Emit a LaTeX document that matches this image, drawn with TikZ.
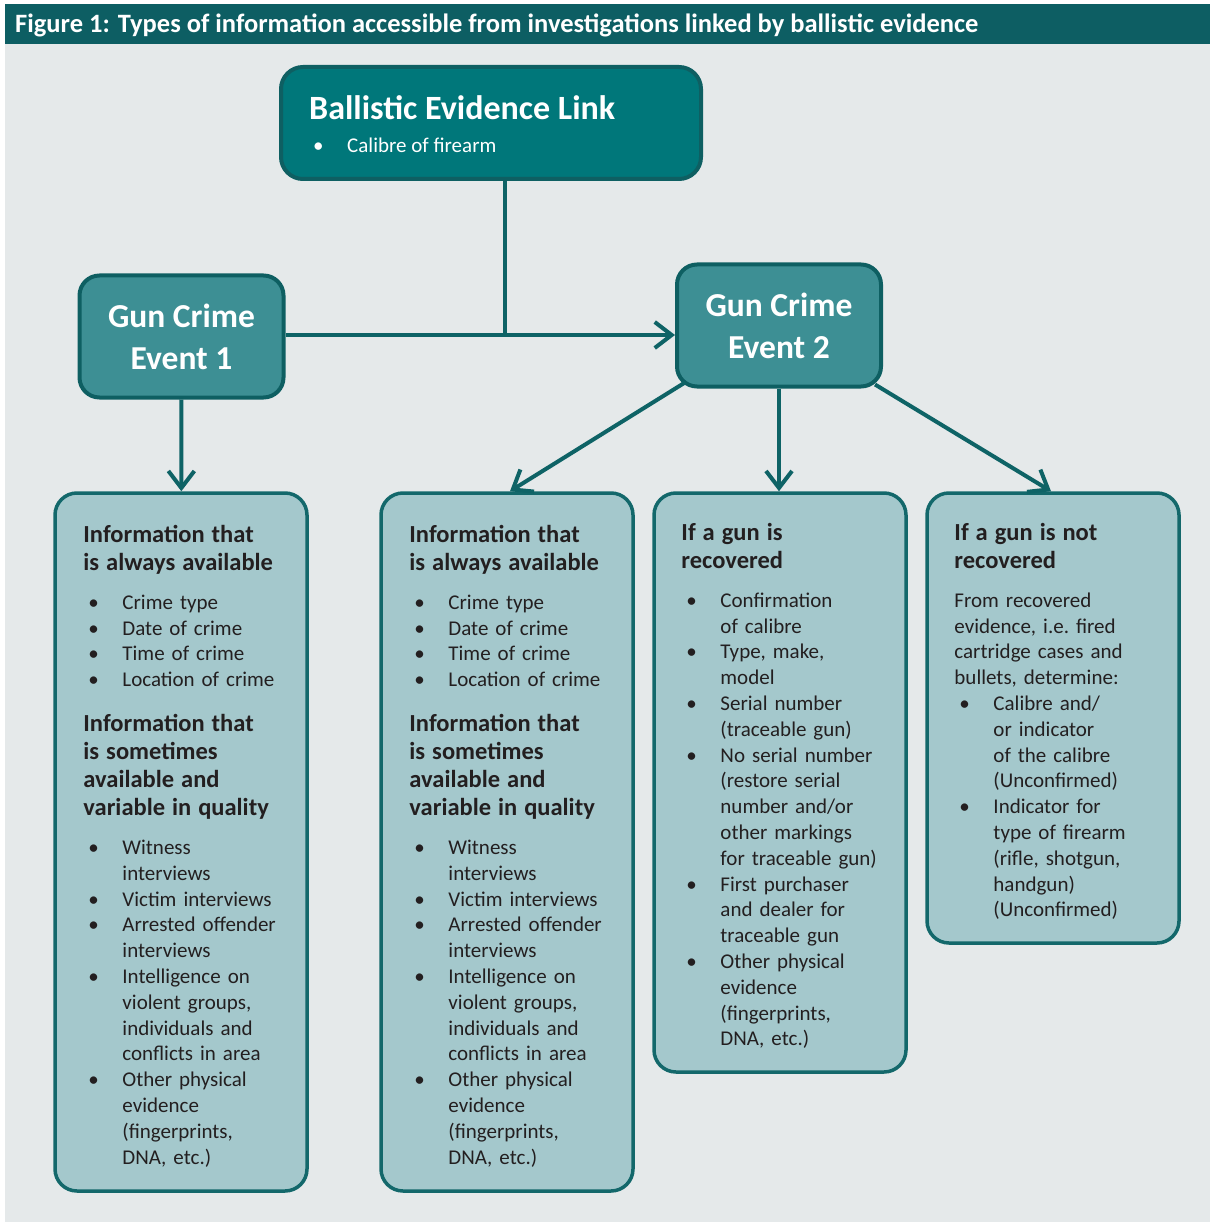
\documentclass[tikz,border=0pt]{standalone}
\usepackage{fontspec}
\setmainfont{Carlito}
\usepackage{tikz}
\usetikzlibrary{arrows.meta,positioning}
\definecolor{headbar}{RGB}{13, 94, 99}
\definecolor{panel}{RGB}{229, 233, 234}
\definecolor{linkfill}{RGB}{0, 119, 122}
\definecolor{eventfill}{RGB}{61, 143, 148}
\definecolor{infofill}{RGB}{164, 200, 204}
\definecolor{boxline}{RGB}{14, 95, 98}
\definecolor{infoline}{RGB}{19, 104, 107}
\definecolor{edgecol}{RGB}{14, 99, 102}
\definecolor{textdark}{RGB}{35, 31, 32}
\tikzstyle{linkbox} = [rectangle, rounded corners=22pt, draw=boxline, line width=4pt, fill=linkfill, minimum width=420pt, minimum height=112pt]
\tikzstyle{eventbox} = [rectangle, rounded corners=20pt, draw=boxline, line width=4pt, fill=eventfill, text=white, align=center, font=\fontsize{33.5}{42}\selectfont\bfseries, minimum width=204pt, minimum height=122pt]
\tikzstyle{infobox} = [rectangle, rounded corners=22pt, draw=infoline, line width=3.5pt, fill=infofill, minimum width=252pt]
\tikzstyle{infotext} = [anchor=north west, inner sep=0pt, text width=222pt, text=textdark, align=left, font=\fontsize{21}{25.8}\selectfont]
\tikzstyle{textonly} = [draw=none, fill=none, inner sep=0pt, anchor=west, text=white]
\tikzstyle{tedge} = [draw=edgecol, line width=4pt, -{Straight Barb[length=17pt,width=26pt]}]
\tikzstyle{tline} = [draw=edgecol, line width=4pt]
\newcommand{\infohead}[1]{\par\fontsize{24.5}{28}\selectfont\bfseries #1\par\fontsize{21}{25.8}\selectfont\mdseries}
\newcommand{\infoitem}[1]{\par{\let\\\newline\hangindent=39pt\hangafter=1\noindent\hspace*{5pt}\makebox[34pt][l]{\textbullet}#1\par}}
\begin{document}
\begin{tikzpicture}[x=1pt, y=1pt]

% frame =============================
\useasboundingbox (0,0) rectangle (1210,-1222);
\fill[white] (0,0) rectangle (1210,-1222);
\fill[panel] (5,-44) rectangle (1210,-1222);
\fill[headbar] (5,-4) rectangle (1210,-44);
\node[textonly, font=\fontsize{26.5}{30}\selectfont\bfseries] (figtitle) at (15,-25) {Figure 1: Types of information accessible from investigations linked by ballistic evidence};

% link and events
\node[linkbox] (link) at (491,-123) {};
\node[textonly, font=\fontsize{34}{40}\selectfont\bfseries] (linktitle) at (309,-108) {Ballistic Evidence Link};
\node[textonly, font=\fontsize{21}{25}\selectfont] (linkitem) at (313,-145) {\makebox[34pt][l]{\textbullet}Calibre of firearm};
\node[eventbox] (event1) at (181.5,-336.5) {Gun Crime\\Event 1};
\node[eventbox] (event2) at (779,-325.5) {Gun Crime\\Event 2};
\coordinate (join) at (505,-335);

% info boxes
\node[infobox, minimum height=698pt] (info1) at (181,-842) {};
\node[infobox, minimum height=698pt, right=70.5pt of info1] (info2) {};
\node[infobox, minimum height=579pt, right=17.5pt of info2.north east, anchor=north west] (info3) {};
\node[infobox, minimum height=450pt, right=17.5pt of info3.north east, anchor=north west] (info4) {};

% info texts
\node[infotext] (info1txt) at ([shift={(30pt,-23pt)}]info1.north west) {%
\infohead{Information that\\is always available}\vspace{13pt}%
\infoitem{Crime type}\infoitem{Date of crime}\infoitem{Time of crime}\infoitem{Location of crime}%
\vspace{17pt}\infohead{Information that\\is sometimes\\available and\\variable in quality}\vspace{13pt}%
\infoitem{Witness\\interviews}\infoitem{Victim interviews}\infoitem{Arrested offender\\interviews}%
\infoitem{Intelligence on\\violent groups,\\individuals and\\conflicts in area}%
\infoitem{Other physical\\evidence\\(fingerprints,\\DNA, etc.)}};
\node[infotext] (info2txt) at ([shift={(30pt,-23pt)}]info2.north west) {%
\infohead{Information that\\is always available}\vspace{13pt}%
\infoitem{Crime type}\infoitem{Date of crime}\infoitem{Time of crime}\infoitem{Location of crime}%
\vspace{17pt}\infohead{Information that\\is sometimes\\available and\\variable in quality}\vspace{13pt}%
\infoitem{Witness\\interviews}\infoitem{Victim interviews}\infoitem{Arrested offender\\interviews}%
\infoitem{Intelligence on\\violent groups,\\individuals and\\conflicts in area}%
\infoitem{Other physical\\evidence\\(fingerprints,\\DNA, etc.)}};
\node[infotext] (info3txt) at ([shift={(29pt,-21pt)}]info3.north west) {%
\infohead{If a gun is\\recovered}\vspace{13pt}%
\infoitem{Confirmation\\of calibre}\infoitem{Type, make,\\model}\infoitem{Serial number\\(traceable gun)}%
\infoitem{No serial number\\(restore serial\\number and/or\\other markings\\for traceable gun)}%
\infoitem{First purchaser\\and dealer for\\traceable gun}%
\infoitem{Other physical\\evidence\\(fingerprints,\\DNA, etc.)}};
\node[infotext] (info4txt) at ([shift={(29pt,-21pt)}]info4.north west) {%
\infohead{If a gun is not\\recovered}\vspace{13pt}%
\noindent From recovered\\evidence, i.e.\ fired\\cartridge cases and\\bullets, determine:\par
\infoitem{Calibre and/\\or indicator\\of the calibre\\(Unconfirmed)}%
\infoitem{Indicator for\\type of firearm\\(rifle, shotgun,\\handgun)\\(Unconfirmed)}};

%edges
\path[tline] (link.south -| join) -- (join);
\path[tedge] (event1.east |- join) -- (event2.west |- join);
\path[tedge] (event1) -- (info1);
\path[tedge] ([shift={(10pt,6pt)}]event2.south west) -- ([xshift=3pt]info2.north);
\path[tedge] (event2.south) -- (event2.south |- info3.north);
\path[tedge] ([shift={(-8pt,4pt)}]event2.south east) -- ([xshift=-2pt]info4.north);

\end{tikzpicture}
\end{document}
